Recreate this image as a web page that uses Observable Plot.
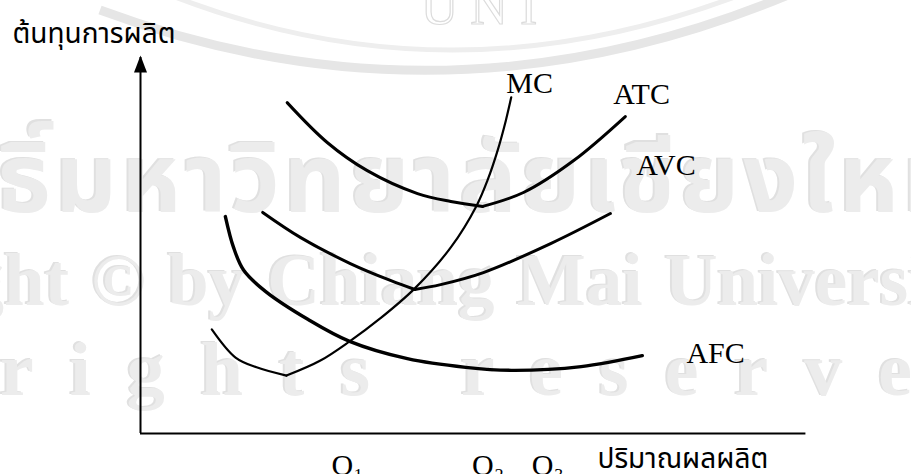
<!DOCTYPE html>
<html>
<head>
<meta charset="utf-8">
<script src="https://cdn.jsdelivr.net/npm/d3@7"></script>
<script src="https://cdn.jsdelivr.net/npm/@observablehq/plot@0.6"></script>
<style>
  html, body { margin: 0; padding: 0; background: #fff; }
  #wrap { position: relative; width: 911px; height: 474px; overflow: hidden; }
  #wrap > svg { position: absolute; left: 0; top: 0; }
  #chart { position: absolute; left: 0; top: 0; }
</style>
</head>
<body>
<div id="wrap"><div id="chart"></div></div>
<script>
// Short-run cost curves: quantity (q) against cost (c), in diagram units
const mcQ  = [1.05, 1.40, 1.71, 2.15, 2.65, 3.08, 3.53, 4.04, 4.57, 4.95, 5.11, 5.26, 5.38, 5.46];
const mcC  = [2.77, 2.02, 1.76, 1.54, 1.94, 2.45, 3.06, 3.86, 4.95, 6.06, 6.73, 7.53, 8.32, 8.94];
const atcQ = [2.16, 2.75, 3.34, 4.08, 4.57, 5.04, 5.64, 6.38, 7.14];
const atcC = [8.80, 7.74, 6.99, 6.38, 6.17, 6.04, 6.41, 7.26, 8.43];
const avcQ = [1.80, 2.36, 3.09, 3.68, 4.04, 4.42, 5.05, 6.04, 6.92];
const avcC = [5.88, 5.21, 4.52, 4.07, 3.83, 3.96, 4.28, 5.05, 5.85];
const afcQ = [1.25, 1.37, 1.52, 1.84, 2.47, 3.08, 3.93, 4.79, 5.46, 6.49, 7.39];
const afcC = [5.77, 4.95, 4.34, 3.78, 3.03, 2.45, 1.99, 1.76, 1.68, 1.78, 2.07];

// Curve names and where each name sits
const curveNames = ["MC", "ATC", "AVC", "AFC"];
const labelQ = [5.73, 7.38, 7.74, 8.47];
const labelC = [9.32, 9.03, 7.12, 2.12];

// Output levels marked under the quantity axis
const qTickLabels = ["Q\u2081", "Q\u2082", "Q\u2083"];
const qTickValues = [3.05, 5.12, 6.00];

// Axis extents and titles
const qMax = 10;
const qAxisEnd = 9.8;
const cMax = 10;
const yTitle = "ต้นทุนการผลิต";
const xTitle = "ปริมาณผลผลิต";

const serif = "'Liberation Serif', 'Times New Roman', serif";
const thai = "'Noto Sans Thai', 'Noto Sans', sans-serif";

// ---- faint copyright watermark behind the diagram ----
const wm = d3.select("#wrap").insert("svg", "#chart")
  .attr("width", 911).attr("height", 474);

wm.append("path").attr("d", "M 100 10 Q 450 140 800 -10")
  .attr("fill", "none").attr("stroke", "#e6e6e6").attr("stroke-width", 9);
wm.append("path").attr("d", "M 170 -5 Q 450 105 740 -5")
  .attr("fill", "none").attr("stroke", "#eeeeee").attr("stroke-width", 5);
wm.append("text").attr("x", 485).attr("y", 24).attr("text-anchor", "middle")
  .attr("font-family", serif).attr("font-size", 52).style("letter-spacing", "12px")
  .attr("fill", "#fff").attr("stroke", "#dcdcdc").attr("stroke-width", 1.2)
  .text("UNI");

function watermark(text, anchor, anchorX, baseline, family, size, spacing, wordSpacing) {
  const g = wm.append("g");
  const make = (fill) => g.append("text")
    .attr("y", baseline).attr("x", 0)
    .attr("font-family", family).attr("font-size", size).attr("font-weight", "bold")
    .style("letter-spacing", spacing + "px")
    .style("word-spacing", (wordSpacing || 0) + "px")
    .attr("fill", fill).text(text);
  const shade = make("#e0e0e0");
  const face = make("#ececec");
  const off = face.node().getStartPositionOfChar(text.indexOf(anchor)).x;
  face.attr("x", anchorX - off);
  shade.attr("x", anchorX - off - 2).attr("y", baseline - 1.5);
}
watermark("ลิขสิทธิ์มหาวิทยาลัยเชียงใหม่", "มหา", 55, 212, thai, 96, 4, 0);
watermark("Copyright © by Chiang Mai University", "by", 168, 305, serif, 73, 0, 4);
watermark("All rights reserved", "rights", 0, 395, serif, 76, 36, 0);

// ---- cost curves ----
const series = {MC: [mcQ, mcC], ATC: [atcQ, atcC], AVC: [avcQ, avcC], AFC: [afcQ, afcC]};
// MC, ATC and AVC meet their lowest point in a corner; AFC falls smoothly
const cornered = new Set(["MC", "ATC", "AVC"]);
const rows = [];
for (const name of curveNames) {
  const [qs, cs] = series[name];
  const low = cornered.has(name) ? d3.minIndex(cs) : -1;
  qs.forEach((q, i) => {
    if (low < 0) rows.push({name, part: name, q, c: cs[i]});
    else {
      if (i <= low) rows.push({name, part: name + "-down", q, c: cs[i]});
      if (i >= low) rows.push({name, part: name + "-up", q, c: cs[i]});
    }
  });
}
const weight = {MC: 2.2, ATC: 3, AVC: 3, AFC: 3.4};

const labels = curveNames.map((name, i) => ({name, q: labelQ[i], c: labelC[i]}));

// filled head at the top of the cost axis
const arrowHead = {
  draw(ctx) {
    ctx.moveTo(0, -2);
    ctx.lineTo(6.5, 15);
    ctx.lineTo(-6.5, 15);
    ctx.closePath();
  }
};

const chart = Plot.plot({
  width: 911,
  height: 474,
  marginTop: 57,
  marginRight: 92,
  marginBottom: 41,
  marginLeft: 140,
  style: {background: "transparent"},
  x: {domain: [0, qMax], axis: null},
  y: {domain: [0, cMax], axis: null},
  marks: [
    Plot.ruleY([0], {x1: 0, x2: qAxisEnd, stroke: "#000", strokeWidth: 2}),
    Plot.ruleX([0], {y1: 0, y2: cMax, stroke: "#000", strokeWidth: 2}),
    Plot.dot([cMax], {x: 0, y: (d) => d, symbol: arrowHead, fill: "#000", stroke: null}),
    ...curveNames.map((name) =>
      Plot.line(rows.filter((d) => d.name === name), {
        x: "q", y: "c", z: "part",
        stroke: "#000", strokeWidth: weight[name],
        curve: "catmull-rom", strokeLinejoin: "round"
      })
    ),
    Plot.text(labels, {
      x: "q", y: "c", text: "name",
      fontFamily: serif, fontSize: 30, fill: "#000",
      textAnchor: "middle", lineAnchor: "middle"
    }),
    Plot.text(qTickLabels, {
      x: (d, i) => qTickValues[i], frameAnchor: "bottom",
      dy: 20, lineAnchor: "top",
      fontFamily: serif, fontSize: 30, fill: "#000"
    }),
    Plot.text([yTitle], {
      frameAnchor: "top-left", dx: -128, dy: -15,
      textAnchor: "start", lineAnchor: "bottom",
      fontFamily: thai, fontSize: 28, fill: "#000"
    }),
    Plot.text([xTitle], {
      frameAnchor: "bottom-left", dx: 457, dy: 34,
      textAnchor: "start", lineAnchor: "bottom",
      fontFamily: thai, fontSize: 28, fill: "#000"
    })
  ]
});

document.getElementById("chart").appendChild(chart);
</script>
</body>
</html>
